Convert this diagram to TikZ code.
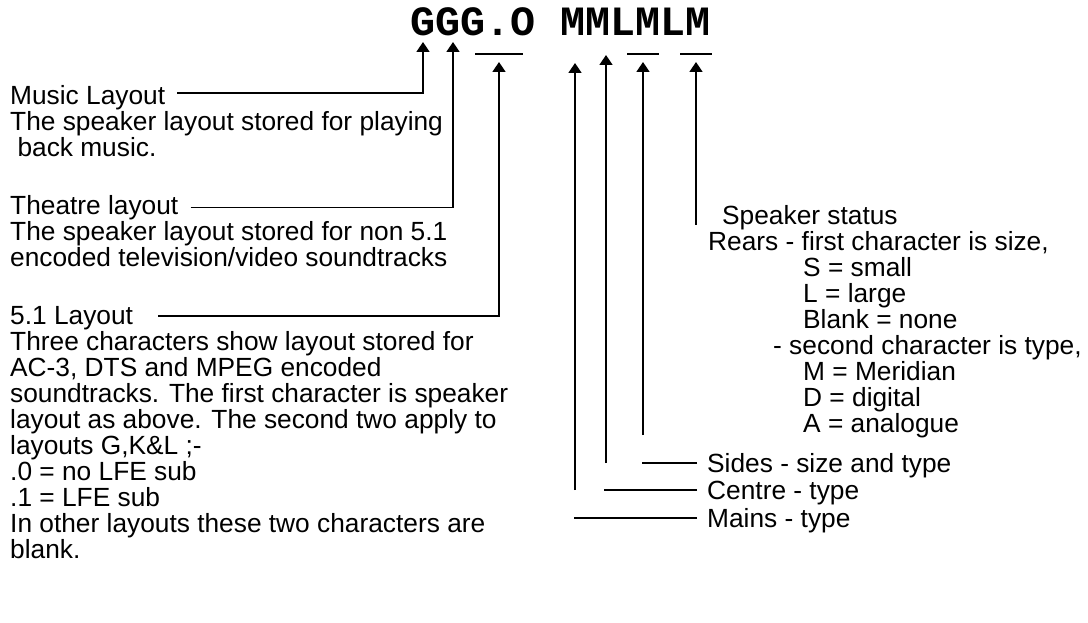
\documentclass[tikz,border=0pt]{standalone}
\usepackage{fontspec}
\setmainfont{Liberation Sans}
\newfontfamily\codefont{Liberation Mono Bold}
\usetikzlibrary{arrows.meta}
\begin{document}
\begin{tikzpicture}[x=1pt,y=-1pt,
  txt/.style={inner sep=0pt, anchor=base west, align=left, font=\fontsize{26.3}{26}\selectfont},
  ln/.style={line width=1.6pt},
  arr/.style={ln, -{Triangle[length=10pt,width=13pt]}}]
\useasboundingbox (0,0) rectangle (1088,623);
% title
\node[inner sep=0pt, anchor=base west, font=\codefont\fontsize{41.7}{45}\selectfont] (title) at (410,36) {GGG.O MMLMLM};
% arrow tips and bars
\coordinate (tm) at (423,42);
\coordinate (tt) at (453,42);
\coordinate (t51) at (499,62);
\coordinate (tmain) at (575,63);
\coordinate (tcen) at (606,55);
\coordinate (tside) at (643,62);
\coordinate (trear) at (696,62);
\coordinate (b1l) at (475,54); \coordinate (b1r) at (523,54);
\coordinate (b2l) at (627,54); \coordinate (b2r) at (659,54);
\coordinate (b3l) at (680,54); \coordinate (b3r) at (712,54);
% left texts (multi-line nodes anchored at the baseline of their last line)
\node[txt] (hm) at (10,104.4) {Music Layout};
\node[txt] (bm) at (10,156.4) {The speaker layout stored for playing\\\hspace*{0.278em}back music.};
\node[txt] (ht) at (10,214.4) {Theatre layout};
\node[txt] (bt) at (10,266.4) {The speaker layout stored for non 5.1\\encoded television/video soundtracks};
\node[txt] (h51) at (10,324.4) {5.1 Layout};
\node[txt] (b51) at (10,558.4) {Three characters show layout stored for\\AC-3, DTS and MPEG encoded\\soundtracks. The first character is speaker\\layout as above. The second two apply to\\layouts G,K\&L ;-\\.0 = no LFE sub\\.1 = LFE sub\\In other layouts these two characters are\\blank.};
% right texts
\node[txt] (hs) at (722,224.4) {Speaker status};
\node[txt] (bs) at (708,432.4) {Rears - first character is size,\\\hspace*{95pt}S = small\\\hspace*{95pt}L = large\\\hspace*{95pt}Blank = none\\\hspace*{65pt}- second character is type,\\\hspace*{95pt}M = Meridian\\\hspace*{95pt}D = digital\\\hspace*{95pt}A = analogue};
\node[txt] (hsid) at (707,472.4) {Sides - size and type};
\node[txt] (hcen) at (707,499.4) {Centre - type};
\node[txt] (hmain) at (707,527.4) {Mains - type};
% connectors
\draw[arr] ([xshift=12pt,yshift=11.4pt]hm.base east) -| (tm);
\draw[arr] ([xshift=12pt,yshift=7pt]ht.base east) -| (tt);
\draw[arr] ([xshift=25pt,yshift=8.5pt]h51.base east) -| (t51);
\draw[ln] (b1l) -- (b1r);
\draw[ln] (b2l) -- (b2r);
\draw[ln] (b3l) -- (b3r);
\coordinate (vmain) at (575,490);
\coordinate (vcen) at (606,463);
\coordinate (vside) at (643,435);
\coordinate (vrear) at (696,225);
\draw[arr] (vmain) -- (tmain);
\draw[arr] (vcen) -- (tcen);
\draw[arr] (vside) -- (tside);
\draw[arr] (vrear) -- (trear);
\coordinate (emain) at (574,518);
\coordinate (ecen) at (604,490);
\coordinate (eside) at (642,463);
\draw[ln] ([xshift=-10pt,yshift=9.4pt]hmain.base west) -- (emain);
\draw[ln] ([xshift=-10pt,yshift=9.4pt]hcen.base west) -- (ecen);
\draw[ln] ([xshift=-10pt,yshift=9.4pt]hsid.base west) -- (eside);
\end{tikzpicture}
\end{document}
